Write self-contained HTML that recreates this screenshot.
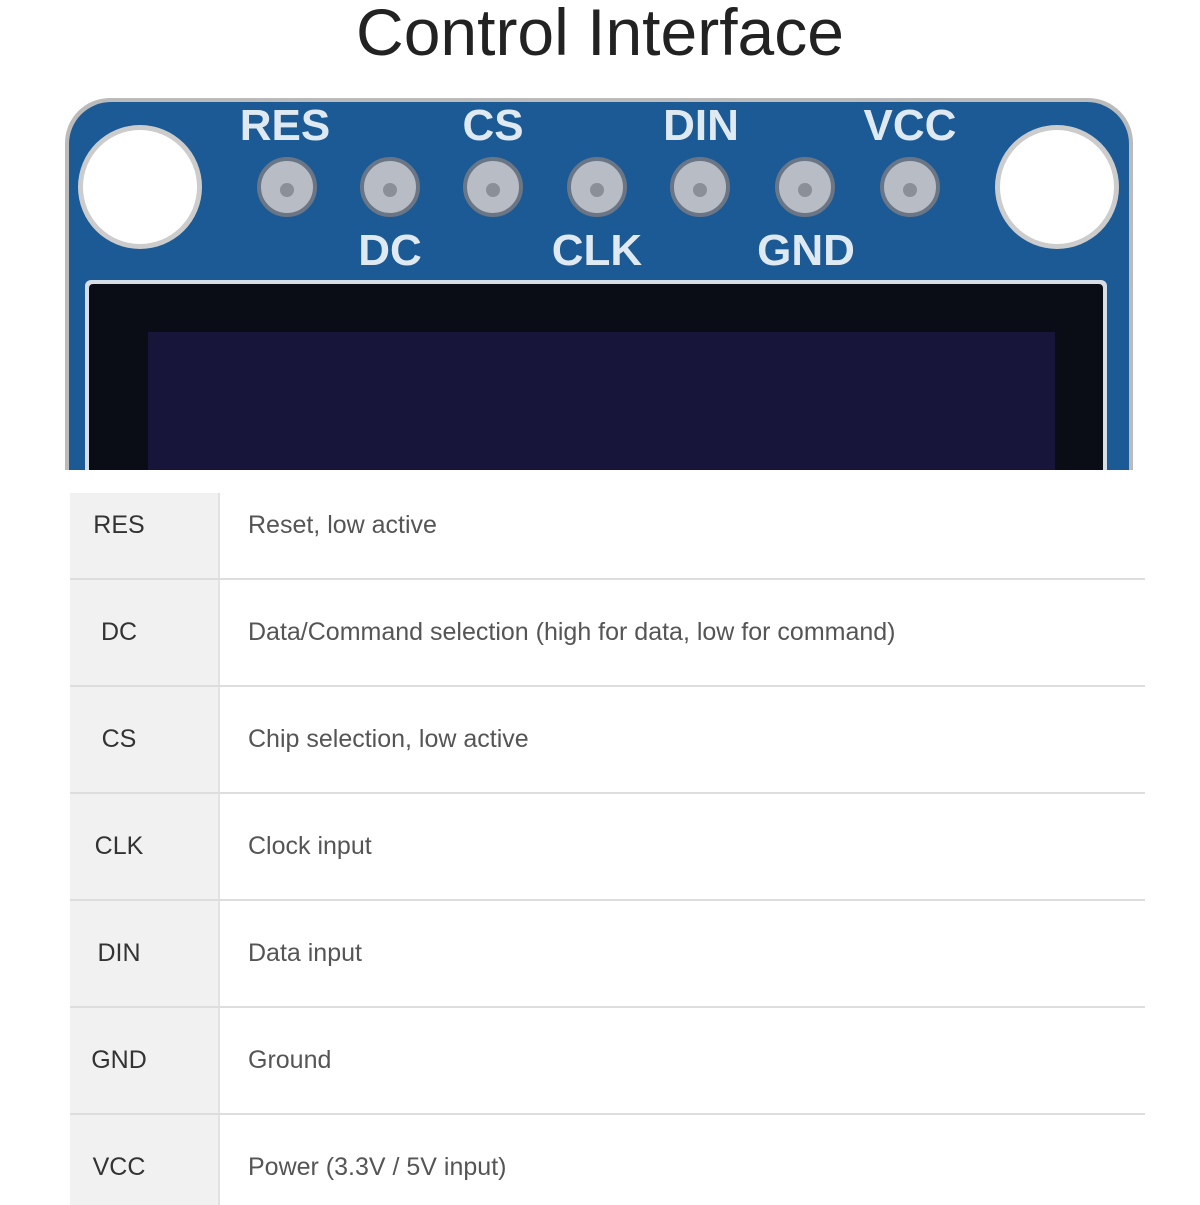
<!DOCTYPE html>
<html><head><style>
body{margin:0;width:1200px;height:1200px;background:#fff;position:relative;overflow:hidden;font-family:"Liberation Sans",sans-serif}
.t{position:absolute;top:-6px;left:0;width:1200px;text-align:center;font-size:66px;color:#222}
.pl{position:absolute;font-weight:bold;font-size:44px;color:#dfe9f2;transform:translateX(-50%)}
.row{position:absolute;left:70px;width:1075px;height:106px;border-top:2px solid #ddd}
.c1{position:absolute;left:0;top:0;width:148px;height:100%;background:#f1f1f1;border-right:2px solid #e2e2e2}
.lb{position:absolute;left:0;width:98px;text-align:center;top:38px;font-size:25px;color:#333}
.ds{position:absolute;left:178px;top:38px;font-size:25px;color:#555}
</style></head><body>
<div class="t">Control Interface</div>
<svg width="1200" height="470" style="position:absolute;left:0;top:0">
<rect x="65" y="98" width="1068" height="420" rx="45" fill="#bbb"/>
<rect x="69" y="102" width="1060" height="420" rx="42" fill="#1b5a95"/>
<circle cx="140" cy="187" r="62" fill="#ccc"/><circle cx="140" cy="187" r="57" fill="#fff"/>
<circle cx="1057" cy="187" r="62" fill="#ccc"/><circle cx="1057" cy="187" r="57" fill="#fff"/>
<g fill="#b8bcc4" stroke="#6a7686" stroke-width="4">
<circle cx="287" cy="187" r="28"/><circle cx="390" cy="187" r="28"/><circle cx="493" cy="187" r="28"/><circle cx="597" cy="187" r="28"/><circle cx="700" cy="187" r="28"/><circle cx="805" cy="187" r="28"/><circle cx="910" cy="187" r="28"/>
</g>
<g fill="#8a8f98"><circle cx="287" cy="190" r="7"/><circle cx="390" cy="190" r="7"/><circle cx="493" cy="190" r="7"/><circle cx="597" cy="190" r="7"/><circle cx="700" cy="190" r="7"/><circle cx="805" cy="190" r="7"/><circle cx="910" cy="190" r="7"/></g>
<rect x="85" y="280" width="1022" height="200" rx="6" fill="#d7dde5"/>
<rect x="89" y="284" width="1014" height="200" rx="4" fill="#0b0d16"/>
<rect x="148" y="332" width="907" height="150" fill="#17163a"/>
</svg>
<div class="pl" style="left:285px;top:101px">RES</div>
<div class="pl" style="left:493px;top:101px">CS</div>
<div class="pl" style="left:701px;top:101px">DIN</div>
<div class="pl" style="left:910px;top:101px">VCC</div>
<div class="pl" style="left:390px;top:226px">DC</div>
<div class="pl" style="left:597px;top:226px">CLK</div>
<div class="pl" style="left:806px;top:226px">GND</div>
<div class="row" style="top:493px;border-top:none;height:85px"><div class="c1"></div><div class="lb" style="top:18px">RES</div><div class="ds" style="top:18px">Reset, low active</div></div>
<div class="row" style="top:578px"><div class="c1"></div><div class="lb">DC</div><div class="ds">Data/Command selection (high for data, low for command)</div></div>
<div class="row" style="top:685px"><div class="c1"></div><div class="lb">CS</div><div class="ds">Chip selection, low active</div></div>
<div class="row" style="top:792px"><div class="c1"></div><div class="lb">CLK</div><div class="ds">Clock input</div></div>
<div class="row" style="top:899px"><div class="c1"></div><div class="lb">DIN</div><div class="ds">Data input</div></div>
<div class="row" style="top:1006px"><div class="c1"></div><div class="lb">GND</div><div class="ds">Ground</div></div>
<div class="row" style="top:1113px;height:90px"><div class="c1"></div><div class="lb">VCC</div><div class="ds">Power (3.3V / 5V input)</div></div>
</body></html>
